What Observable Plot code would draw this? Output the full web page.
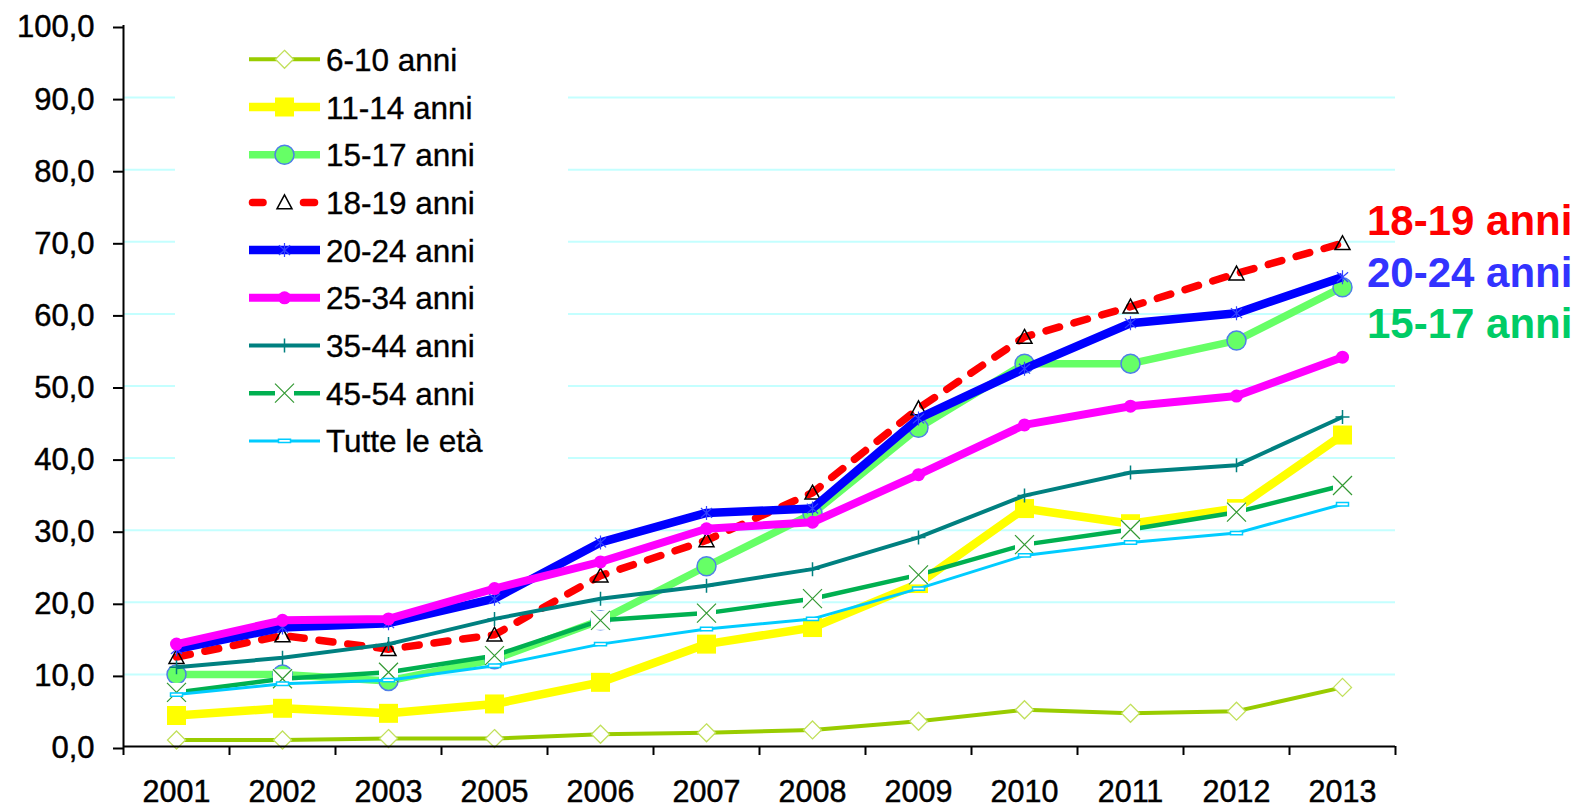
<!DOCTYPE html>
<html>
<head>
<meta charset="utf-8">
<script src="https://cdn.jsdelivr.net/npm/d3@7"></script>
<script src="https://cdn.jsdelivr.net/npm/@observablehq/plot@0.6"></script>
<style>
  html, body { margin: 0; padding: 0; background: white; }
  svg { display: block; }
</style>
</head>
<body>
<div id="chart"></div>
<script>
// ---- data ----
const years = ["2001","2002","2003","2005","2006","2007","2008","2009","2010","2011","2012","2013"];
const seriesNames = ["6-10 anni","11-14 anni","15-17 anni","18-19 anni","20-24 anni","25-34 anni","35-44 anni","45-54 anni","Tutte le età"];
const v6_10  = [0.9, 0.9, 1.1, 1.1, 1.7, 1.9, 2.3, 3.5, 5.1, 4.6, 4.9, 8.2];
const v11_14 = [4.3, 5.3, 4.6, 5.9, 8.9, 14.2, 16.5, 22.6, 33.0, 30.9, 33.0, 43.2];
const v15_17 = [10.0, 10.0, 9.1, 12.1, 17.5, 25.0, 32.3, 44.2, 53.1, 53.1, 56.3, 63.7];
const v18_19 = [12.4, 15.4, 13.5, 15.5, 23.7, 28.6, 35.2, 46.9, 56.8, 61.0, 65.6, 69.8];
const v20_24 = [13.5, 16.5, 17.1, 20.5, 28.3, 32.4, 33.0, 45.5, 52.4, 58.7, 60.1, 65.1];
const v25_34 = [14.2, 17.5, 17.7, 21.9, 25.6, 30.2, 31.1, 37.7, 44.6, 47.2, 48.6, 54.0];
const v35_44 = [11.0, 12.3, 14.2, 17.7, 20.5, 22.3, 24.6, 29.0, 34.8, 38.0, 39.0, 45.7];
const v45_54 = [7.5, 9.4, 10.3, 12.6, 17.5, 18.5, 20.5, 23.8, 28.0, 30.1, 32.5, 36.2];
const vTutte = [7.2, 8.7, 9.2, 11.2, 14.2, 16.3, 17.7, 21.9, 26.5, 28.3, 29.6, 33.6];
const seriesValues = [v6_10, v11_14, v15_17, v18_19, v20_24, v25_34, v35_44, v45_54, vTutte];
const yTicks = [0, 10, 20, 30, 40, 50, 60, 70, 80, 90, 100];
const highlighted = ["18-19 anni", "20-24 anni", "15-17 anni"];

// ---- custom marker shapes ----
const R = s => Math.sqrt(s / Math.PI);
const diamond = {draw(c, s) { const h = R(s); c.moveTo(0, -h); c.lineTo(h, 0); c.lineTo(0, h); c.lineTo(-h, 0); c.closePath(); }};
const square = {draw(c, s) { const h = R(s); c.rect(-h, -h, 2 * h, 2 * h); }};
const circle = {draw(c, s) { const h = R(s); c.moveTo(h, 0); c.arc(0, 0, h, 0, 2 * Math.PI); }};
const triangle = {draw(c, s) { const h = R(s); c.moveTo(0, -h); c.lineTo(h, h * 0.85); c.lineTo(-h, h * 0.85); c.closePath(); }};
const asterisk = {draw(c, s) { const h = R(s); c.moveTo(0, -h); c.lineTo(0, h); c.moveTo(-h * 0.8, -h * 0.7); c.lineTo(h * 0.8, h * 0.7); c.moveTo(h * 0.8, -h * 0.7); c.lineTo(-h * 0.8, h * 0.7); }};
const plus = {draw(c, s) { const h = R(s); c.moveTo(-h, 0); c.lineTo(h, 0); c.moveTo(0, -h); c.lineTo(0, h); }};
const cross = {draw(c, s) { const h = R(s); c.moveTo(-h, -h); c.lineTo(h, h); c.moveTo(h, -h); c.lineTo(-h, h); }};
const bar = {draw(c, s) { const h = R(s); c.rect(-h, -h * 0.28, 2 * h, h * 0.56); }};

// ---- styles (per series) ----
const styles = {
  "6-10 anni":   {line: "#99cc00", width: 4,   markers: [{symbol: diamond, r: 9, fill: "white", stroke: "#c2e05c", sw: 1.3}]},
  "11-14 anni":  {line: "#ffff00", width: 8.5, markers: [{symbol: square, r: 9.5, fill: "#ffff00", stroke: "none", sw: 0}]},
  "15-17 anni":  {line: "#66ff66", width: 7.5, markers: [{symbol: circle, r: 9.5, fill: "#66ff66", stroke: "#4f7fe8", sw: 1.5}]},
  "18-19 anni":  {line: "#ff0000", width: 7.5, dash: "14,15", markers: [{symbol: triangle, r: 7.5, fill: "none", stroke: "black", sw: 1.5}]},
  "20-24 anni":  {line: "#0000ff", width: 8.5, markers: [{symbol: asterisk, r: 7, fill: "none", stroke: "#3344ff", sw: 1.2}]},
  "25-34 anni":  {line: "#ff00ff", width: 8,   markers: [{symbol: circle, r: 6.5, fill: "#ff00ff", stroke: "none", sw: 0}]},
  "35-44 anni":  {line: "#008080", width: 4,   markers: [{symbol: plus, r: 7, fill: "none", stroke: "#008080", sw: 1.5}]},
  "45-54 anni":  {line: "#00b050", width: 4.5, markers: [{symbol: square, r: 9.5, fill: "white", stroke: "none", sw: 0}, {symbol: cross, r: 9.5, fill: "none", stroke: "#339933", sw: 1.2}]},
  "Tutte le età":{line: "#00ccff", width: 3,   markers: [{symbol: bar, r: 6, fill: "white", stroke: "#00ccff", sw: 1.5}]}
};
const labelColors = {"18-19 anni": "#ff0000", "20-24 anni": "#3333ff", "15-17 anni": "#00cc66"};

const FONT = "'Liberation Sans', Arial, Helvetica, sans-serif";
const idx = d3.range(years.length);
const edges = d3.range(years.length + 1).map(i => i - 0.5);

const marks = [
  Plot.gridY(yTicks.filter(t => t > 0 && t < 100), {stroke: "#c4ffff", strokeOpacity: 1, strokeWidth: 2})
];
seriesNames.forEach((name, k) => {
  const rows = idx.map(i => ({i, v: seriesValues[k][i]}));
  const st = styles[name];
  marks.push(Plot.line(rows, {x: "i", y: "v", stroke: st.line, strokeWidth: st.width,
    strokeDasharray: st.dash, strokeLinecap: st.dash ? "round" : "butt", strokeLinejoin: "round"}));
  st.markers.forEach(m => {
    marks.push(Plot.dot(rows, {x: "i", y: "v", symbol: m.symbol, r: m.r, fill: m.fill,
      stroke: m.stroke, strokeWidth: m.sw}));
  });
});
marks.push(
  Plot.ruleY([0], {stroke: "black", strokeWidth: 2}),
  Plot.ruleX([-0.5], {stroke: "black", strokeWidth: 2}),
  Plot.axisY(yTicks, {label: null, tickSize: 10, tickPadding: 19, fontSize: 31, stroke: "black", strokeWidth: 2,
    fill: "black", dy: 2, tickFormat: d => d.toFixed(1).replace(".", ",")}),
  Plot.axisX(idx, {label: null, tickSize: 0, tickPadding: 34, fontSize: 30.5, fill: "black", tickFormat: i => years[i]}),
  Plot.axisX(edges, {label: null, tickSize: 9, stroke: "black", strokeWidth: 2, tickFormat: () => ""})
);

const svg = Plot.plot({
  width: 1578, height: 807,
  marginLeft: 123, marginRight: 183, marginTop: 25, marginBottom: 61,
  x: {domain: [-0.5, years.length - 0.5], label: null},
  y: {domain: [0, 100], label: null},
  style: {fontFamily: FONT, background: "white", color: "black"},
  marks
});
document.getElementById("chart").appendChild(svg);

const sel = d3.select(svg);
// slightly heavier tick text, like the original rendering
sel.selectAll("g[aria-label$='tick label']").attr("stroke", "black").attr("stroke-width", 0.45);

// ---- in-plot legend (overlay) ----
const lg = sel.append("g").attr("font-family", FONT).attr("text-anchor", "start");
lg.append("rect").attr("x", 175).attr("y", 35).attr("width", 393).attr("height", 435).attr("fill", "white");
seriesNames.forEach((name, k) => {
  const st = styles[name];
  const cy = 59.3 + 47.7 * k;
  if (st.dash) {
    [[252.5, 263], [303.5, 314.5]].forEach(([a, b]) =>
      lg.append("line").attr("x1", a).attr("x2", b).attr("y1", cy).attr("y2", cy)
        .attr("stroke", st.line).attr("stroke-width", st.width).attr("stroke-linecap", "round"));
  } else {
    lg.append("line").attr("x1", 249).attr("x2", 320).attr("y1", cy).attr("y2", cy)
      .attr("stroke", st.line).attr("stroke-width", st.width);
  }
  st.markers.forEach(m => {
    lg.append("path")
      .attr("d", d3.symbol(m.symbol, Math.PI * m.r * m.r)())
      .attr("transform", `translate(284.5,${cy})`)
      .attr("fill", m.fill).attr("stroke", m.stroke).attr("stroke-width", m.sw);
  });
  lg.append("text").attr("x", 326).attr("y", cy + 11.5).attr("font-size", 31.5)
    .attr("fill", "black").attr("stroke", "black").attr("stroke-width", 0.35).text(name);
});

// ---- highlighted labels on the right ----
const rl = sel.append("g").attr("font-family", FONT).attr("font-weight", "bold")
  .attr("font-size", 42).attr("text-anchor", "start");
highlighted.forEach((name, k) => {
  rl.append("text").attr("x", 1367).attr("y", 235 + 51.7 * k).attr("fill", labelColors[name]).text(name);
});
</script>
</body>
</html>
